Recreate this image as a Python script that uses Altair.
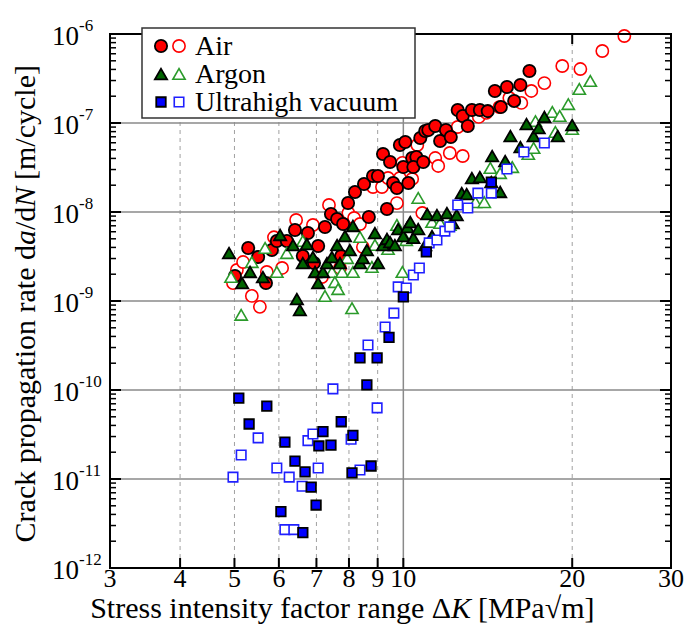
import altair as alt
import pandas as pd

# ---------------- data ----------------
air_filled_dk = [5.01, 5.29, 5.51, 5.69, 5.83, 5.95, 6.20, 6.41, 6.62, 6.76, 6.93, 7.05, 7.25, 7.43, 7.62, 7.81, 7.75, 7.97, 8.20, 8.51,
                 8.68, 8.83, 9.01, 9.20, 9.35, 9.47, 9.59, 9.74, 9.86, 10.08, 10.0, 10.21, 10.37, 10.55, 10.42, 10.85, 10.72, 10.94, 11.08, 11.40,
                 11.63, 11.91, 12.15, 12.50, 12.76, 13.03, 13.25, 13.69, 14.14, 14.56, 14.92, 15.30, 15.76, 16.17, 16.78]
air_filled_rate = [1.91e-9, 3.94e-9, 3.12e-9, 1.59e-9, 3.74e-9, 4.72e-9, 4.72e-9, 6.28e-9, 3.21e-9, 5.81e-9, 2.67e-9, 4.15e-9, 6.78e-9, 9.5e-9, 8.34e-9, 7.33e-9, 3.21e-9, 1.26e-8, 1.68e-8, 2.06e-8,
                   8.79e-9, 2.54e-8, 2.54e-8, 4.49e-8, 1.08e-8, 3.65e-8, 2.12e-8, 1.86e-8, 5.66e-8, 6.12e-8, 3.2e-8, 2.12e-8, 4.04e-8, 4.15e-8, 3.2e-8, 3.65e-8, 6.78e-8, 8.13e-8, 8.34e-8, 9.25e-8,
                   6.28e-8, 8.34e-8, 6.97e-8, 1.40e-7, 1.20e-7, 9.25e-8, 1.40e-7, 1.40e-7, 1.36e-7, 2.29e-7, 1.51e-7, 2.54e-7, 1.77e-7, 2.67e-7, 3.84e-7]

air_open_dk = [4.97, 5.05, 5.18, 5.37, 5.55, 5.71, 6.08, 5.88, 6.44, 6.90, 7.16, 7.37, 7.71, 7.98, 8.17, 8.37, 8.47, 8.83, 9.16, 9.39,
               9.74, 9.86, 9.96, 10.37, 10.59, 10.81, 11.40, 11.54, 12.10, 12.50, 12.76, 13.63, 14.06, 14.83, 15.45, 16.23, 16.91, 17.84, 19.20, 20.68,
               22.63, 24.77]
air_open_rate = [1.59e-9, 2.23e-9, 2.74e-9, 1.14e-9, 8.6e-10, 2.12e-9, 2.35e-9, 5.2e-9, 8.13e-9, 7.14e-9, 1.86e-9, 1.20e-8, 2.35e-9, 9.75e-9, 8.57e-9, 7.33e-9, 4.04e-9, 1.91e-8, 1.91e-8, 2.41e-8,
                 1.26e-8, 2.41e-8, 3.56e-8, 2.35e-8, 5.66e-8, 9.75e-9, 4.04e-8, 3.29e-8, 4.6e-8, 9.02e-8, 4.26e-8, 1.17e-7, 1.30e-7, 1.51e-7, 1.91e-7, 1.68e-7, 2.29e-7, 2.81e-7, 4.37e-7, 4.04e-7,
                 6.44e-7, 9.5e-7]

argon_filled_dk = [4.89, 5.16, 5.33, 5.62, 6.03, 6.36, 6.46, 6.54, 6.62, 6.73, 6.90, 6.96, 7.05, 7.19, 7.31, 7.46, 7.62, 7.71, 7.87, 8.03,
                   8.13, 8.37, 8.47, 8.61, 8.90, 9.01, 9.20, 9.35, 9.47, 9.66, 9.79, 10.0, 10.17, 10.29, 10.42, 10.63, 10.94, 11.03, 11.25, 11.48,
                   11.96, 12.25, 12.45, 12.71, 12.97, 13.25, 13.69, 14.35, 14.40, 14.88, 15.19, 15.52, 16.17, 16.58, 17.07, 17.43, 17.84, 18.85, 20.0]
argon_filled_rate = [3.46e-9, 1.59e-9, 2.12e-9, 1.86e-9, 5.52e-9, 4.26e-9, 1.05e-9, 7.9e-10, 2.67e-9, 4.37e-9, 3.12e-9, 2.12e-9, 1.59e-9, 2.12e-9, 2.67e-9, 3.12e-9, 4.26e-9, 2.67e-9, 5.37e-9, 3.74e-9,
                     6.97e-9, 2.67e-9, 3.04e-9, 3.74e-9, 5.81e-9, 2.67e-9, 4.26e-9, 4.98e-9, 4.6e-9, 4.26e-9, 6.44e-9, 5.37e-9, 6.78e-9, 7.72e-9, 5.12e-9, 6.44e-9, 4.26e-9, 9.5e-9, 5.37e-9, 9.25e-9,
                     9.75e-9, 7.52e-9, 9.25e-9, 1.63e-8, 1.59e-8, 2.41e-8, 2.47e-8, 2.17e-8, 4.26e-8, 1.68e-8, 3.74e-8, 7.14e-8, 5.37e-8, 9.75e-8, 7.14e-8, 8.79e-8, 1.17e-7, 7.14e-8, 9.5e-8]

argon_open_dk = [5.14, 4.93, 5.37, 5.67, 5.95, 6.20, 6.62, 7.25, 7.46, 7.55, 7.65, 7.78, 7.94, 8.10, 8.13, 8.37, 8.79, 8.90, 9.39, 9.74,
                 9.96, 10.12, 10.63, 11.25, 11.63, 12.10, 13.44, 13.94, 14.29, 14.88, 15.64, 16.70, 17.07, 17.2, 18.43, 18.66, 19.0, 19.68, 20.0, 20.59,
                 21.54]
argon_open_rate = [7.0e-10, 1.86e-9, 2.74e-9, 3.94e-9, 2.12e-9, 3.46e-9, 4.72e-9, 1.14e-9, 2.12e-9, 1.63e-9, 1.36e-9, 2.12e-9, 3.04e-9, 8.3e-10, 2.12e-9, 5.24e-9, 2.41e-9, 4.26e-9, 3.84e-9, 7.14e-9,
                   2.12e-9, 4.84e-9, 1.44e-8, 7.72e-9, 7.52e-9, 7.14e-9, 1.29e-8, 1.29e-8, 3.12e-8, 2.74e-8, 3.2e-8, 4.49e-8, 5.24e-8, 1.05e-7, 1.33e-7, 7.92e-8, 1.20e-7, 1.63e-7, 8.57e-8, 2.41e-7,
                   2.97e-7]

uhv_filled_dk = [5.09, 5.31, 5.71, 6.05, 6.15, 6.41, 6.62, 6.68, 6.85, 6.99, 7.07, 7.19, 7.43, 7.75, 8.13, 8.10, 8.37, 8.61, 8.76, 8.98,
                 9.43, 10.0, 10.99, 14.35]
uhv_filled_rate = [8.1e-11, 4.15e-11, 6.6e-11, 4.3e-12, 2.6e-11, 1.59e-11, 2.5e-12, 1.2e-11, 8.1e-12, 5.1e-12, 2.35e-11, 3.4e-11, 2.4e-11, 4.4e-11, 3.1e-11, 1.17e-11, 2.3e-10, 1.14e-10, 1.40e-11, 2.3e-10,
                   3.9e-10, 1.11e-9, 3.56e-9, 2.17e-8]

uhv_open_dk = [4.97, 5.14, 5.51, 5.95, 6.26, 6.60, 6.15, 6.38, 6.76, 6.90, 7.05, 7.49, 8.07, 8.37, 8.98, 8.65, 9.28, 9.62, 9.79, 10.12,
               10.42, 10.68, 11.12, 11.48, 11.86, 12.10, 12.50, 13.03, 13.58, 14.35, 15.30, 16.40, 17.84]
uhv_open_rate = [1.05e-11, 1.86e-11, 2.9e-11, 1.33e-11, 1.05e-11, 8.3e-12, 2.7e-12, 2.7e-12, 2.7e-11, 3.2e-11, 1.33e-11, 1.03e-10, 2.8e-11, 1.26e-11, 6.3e-11, 3.2e-10, 5.1e-10, 7.3e-10, 1.44e-9, 1.40e-9,
                 1.96e-9, 2.35e-9, 4.5e-9, 4.84e-9, 6.1e-9, 6.8e-9, 1.2e-8, 1.11e-8, 1.63e-8, 1.63e-8, 3.04e-8, 4.72e-8, 5.96e-8]

legend_labels = ["Air", "Argon", "Ultrahigh vacuum"]

x_tick_values = [3, 4, 5, 6, 7, 8, 9, 10, 20, 30]
x_tick_labels = ["3", "4", "5", "6", "7", "8", "9", "10", "20", "30"]
x_inner_ticks = [4, 5, 6, 7, 8, 9, 10, 20]
x_dashed_grid = [4, 5, 6, 7, 8, 9, 20]
x_solid_grid = [10]
y_major = [1e-12, 1e-11, 1e-10, 1e-9, 1e-8, 1e-7, 1e-6]
y_exponents = ["-12", "-11", "-10", "-9", "-8", "-7", "-6"]
y_minor = [m * 10.0 ** e for e in range(-12, -6) for m in range(2, 10)]

x_title_parts = ["Stress intensity factor range \u0394", "K", "[MPa\u221am]"]
y_title_parts = ["Crack propagation rate d", "a", "/d", "N", "[m/cycle]"]

# ---------------- layout ----------------
W, H = 561, 534
FONT = "Liberation Serif"
xs = alt.Scale(type="log", domain=[3, 30], nice=False)
ys = alt.Scale(type="log", domain=[1e-12, 1e-6], nice=False)


def X(f="v"):
    return alt.X(f + ":Q", scale=xs, axis=None)


def Y(f="v"):
    return alt.Y(f + ":Q", scale=ys, axis=None)


def series(dk, rate, shape, size, fill, stroke, sw):
    df = pd.DataFrame({"dk": dk, "rate": rate})
    return alt.Chart(df).mark_point(shape=shape, size=size, filled=True, fill=fill,
                                    stroke=stroke, strokeWidth=sw, opacity=1).encode(
        x=X("dk"), y=Y("rate"))


ymaj = pd.DataFrame({"v": y_major, "e": y_exponents})
ymin = pd.DataFrame({"v": y_minor})
xin = pd.DataFrame({"v": x_inner_ticks})

layers = []
# grid
layers.append(alt.Chart(pd.DataFrame({"v": x_dashed_grid})).mark_rule(color="#a0a0a0", strokeWidth=1, strokeDash=[4, 4]).encode(
    x=X(), y=alt.value(0), y2=alt.value(H)))
layers.append(alt.Chart(pd.DataFrame({"v": x_solid_grid})).mark_rule(color="#8a8a8a", strokeWidth=1.5).encode(
    x=X(), y=alt.value(0), y2=alt.value(H)))
layers.append(alt.Chart(ymaj).mark_rule(color="#8a8a8a", strokeWidth=1.5).encode(
    y=Y(), x=alt.value(0), x2=alt.value(W)))

# inner ticks
TK = "black"
layers.append(alt.Chart(ymaj).mark_rule(color=TK, strokeWidth=2).encode(y=Y(), x=alt.value(0), x2=alt.value(11)))
layers.append(alt.Chart(ymaj).mark_rule(color=TK, strokeWidth=2).encode(y=Y(), x=alt.value(W - 11), x2=alt.value(W)))
layers.append(alt.Chart(ymin).mark_rule(color=TK, strokeWidth=1.5).encode(y=Y(), x=alt.value(0), x2=alt.value(6)))
layers.append(alt.Chart(ymin).mark_rule(color=TK, strokeWidth=1.5).encode(y=Y(), x=alt.value(W - 6), x2=alt.value(W)))
layers.append(alt.Chart(xin).mark_rule(color=TK, strokeWidth=2).encode(x=X(), y=alt.value(H - 10), y2=alt.value(H)))
layers.append(alt.Chart(xin).mark_rule(color=TK, strokeWidth=2).encode(x=X(), y=alt.value(0), y2=alt.value(10)))

# data series
RED, GREEN, GREEN_O, BLUE, BLUE_O = "#ff0000", "#006400", "#2a9a2a", "#0000ff", "#2020ff"
CS, TS, SS = 150, 150, 90
layers.append(series(air_open_dk, air_open_rate, "circle", CS, "white", RED, 1.6))
layers.append(series(air_filled_dk, air_filled_rate, "circle", CS, RED, "black", 1.8))
layers.append(series(argon_open_dk, argon_open_rate, "triangle-up", TS, "white", GREEN_O, 1.6))
layers.append(series(argon_filled_dk, argon_filled_rate, "triangle-up", TS, GREEN, "black", 1.8))
layers.append(series(uhv_open_dk, uhv_open_rate, "square", SS, "white", BLUE_O, 1.6))
layers.append(series(uhv_filled_dk, uhv_filled_rate, "square", SS, BLUE, "black", 1.8))

# frame
layers.append(alt.Chart(pd.DataFrame({"a": [0]})).mark_rect(fill="white", fillOpacity=0, stroke="black", strokeWidth=2).encode(
    x=alt.value(0), x2=alt.value(W), y=alt.value(0), y2=alt.value(H)))

# y tick labels 10^n
layers.append(alt.Chart(ymaj).mark_text(text="10", font=FONT, fontSize=27, align="left", baseline="middle", dy=3, color="black").encode(
    y=Y(), x=alt.value(-58)))
layers.append(alt.Chart(ymaj).mark_text(font=FONT, fontSize=17, align="left", baseline="middle", dy=-8, color="black").encode(
    y=Y(), x=alt.value(-31), text="e:N"))

# x tick labels
layers.append(alt.Chart(pd.DataFrame({"v": x_tick_values, "t": x_tick_labels})).mark_text(
    font=FONT, fontSize=26, align="center", baseline="middle", color="black").encode(
    x=X(), y=alt.value(H + 11), text="t:N"))


def txt(s, x, y, align, italic=False, angle=0, size=30):
    kw = dict(font=FONT, fontSize=size, align=align, baseline="alphabetic", color="black")
    if italic:
        kw["fontStyle"] = "italic"
    if angle:
        kw["angle"] = angle
    return alt.Chart(pd.DataFrame({"t": [s]})).mark_text(**kw).encode(
        x=alt.value(x), y=alt.value(y), text="t:N")


# x title (K italic)
XT_Y = H + 50
XK = 341
layers.append(txt(x_title_parts[0], XK, XT_Y, "right"))
layers.append(txt(x_title_parts[1], XK, XT_Y, "left", italic=True))
layers.append(txt(x_title_parts[2], XK + 27, XT_Y, "left"))

# y title (a, N italic), rotated
YT_X = -75
YA = 211
layers.append(txt(y_title_parts[0], YT_X, YA, "right", angle=270))
layers.append(txt(y_title_parts[1], YT_X, YA, "left", italic=True, angle=270))
layers.append(txt(y_title_parts[2], YT_X, YA - 15, "left", angle=270))
layers.append(txt(y_title_parts[3], YT_X, YA - 38, "left", italic=True, angle=270))
layers.append(txt(y_title_parts[4], YT_X, YA - 65, "left", angle=270))

# legend
layers.append(alt.Chart(pd.DataFrame({"a": [0]})).mark_rect(fill="white", stroke="#333333", strokeWidth=1.5).encode(
    x=alt.value(32), x2=alt.value(305), y=alt.value(-6), y2=alt.value(84)))
leg_rows = [12, 40, 68]
leg_style = [
    ("circle", CS, RED, "black", RED),
    ("triangle-up", TS, GREEN, "black", GREEN_O),
    ("square", SS, BLUE, "black", BLUE_O),
]
for lab, ry, (shape, size, fcol, fstroke, ocol) in zip(legend_labels, leg_rows, leg_style):
    one = pd.DataFrame({"t": [lab]})
    layers.append(alt.Chart(one).mark_point(shape=shape, size=size, filled=True, fill=fcol, stroke=fstroke,
                                            strokeWidth=1.8, opacity=1).encode(x=alt.value(51), y=alt.value(ry)))
    layers.append(alt.Chart(one).mark_point(shape=shape, size=size, filled=True, fill="white", stroke=ocol,
                                            strokeWidth=1.6, opacity=1).encode(x=alt.value(69), y=alt.value(ry)))
    layers.append(alt.Chart(one).mark_text(font=FONT, fontSize=28, align="left", baseline="middle", color="black").encode(
        x=alt.value(85), y=alt.value(ry + 1), text="t:N"))

chart = alt.layer(*layers).properties(
    width=W, height=H,
    padding={"left": 110, "top": 34, "right": 16, "bottom": 73},
    autosize="none",
).configure_view(stroke=None).configure(background="white")

chart.save("out.html", embed_options={"renderer": "svg", "actions": False})
